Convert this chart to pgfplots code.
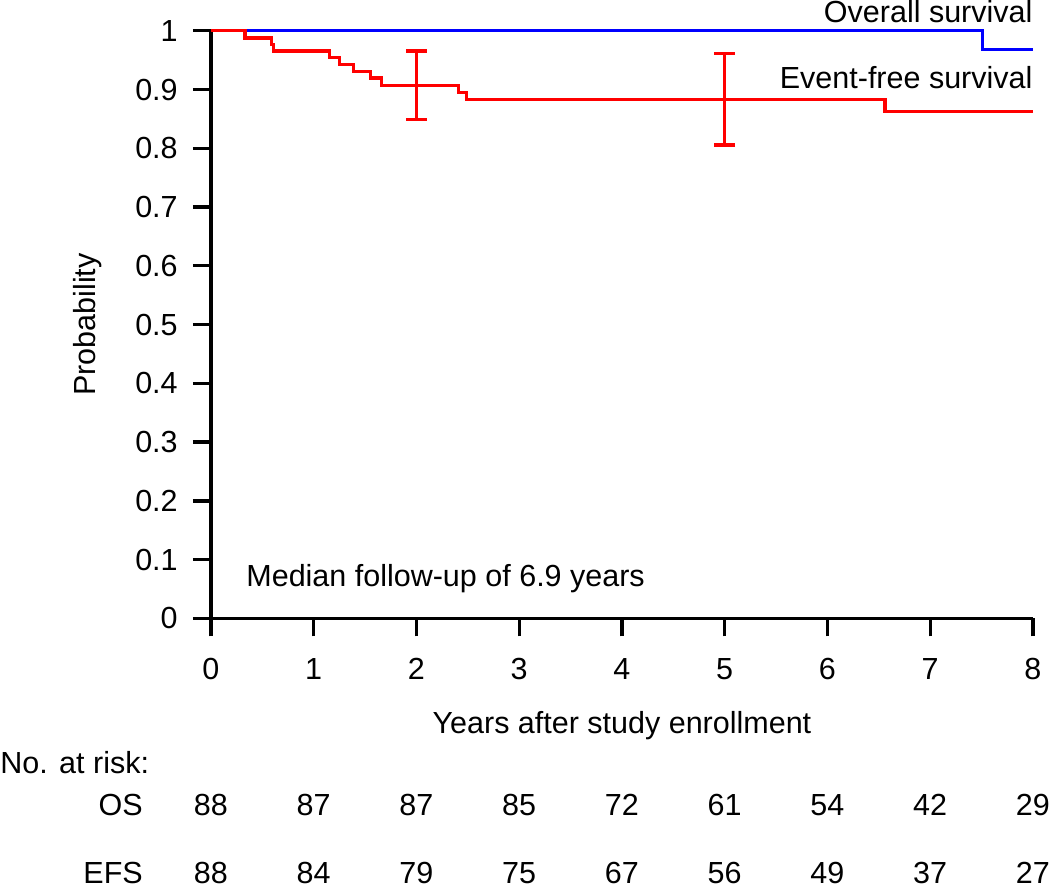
\documentclass[border=0pt]{standalone}
\usepackage{fontspec}
\setmainfont{Liberation Sans}
\usepackage{pgfplots}
\pgfplotsset{compat=1.18}
\definecolor{osblue}{RGB}{0,0,255}
\definecolor{efsred}{RGB}{255,0,0}
\begin{document}
\fontsize{12}{14}\selectfont
\begin{tikzpicture}
\useasboundingbox (-83.0pt,-105.3pt) rectangle (330.1pt,243.3pt);
\begin{axis}[
  at={(0pt,0pt)}, anchor=south west,
  scale only axis, width=323.4pt, height=231.2pt,
  xmin=0, xmax=8, ymin=0, ymax=1,
  axis lines=left,
  axis line style={-, line width=1.3pt, black},
  tick align=outside, major tick length=7.1pt,
  tick style={line width=1.3pt, black},
  xtick={0,1,2,3,4,5,6,7,8},
  ytick={0,0.1,0.2,0.3,0.4,0.5,0.6,0.7,0.8,0.9,1},
  yticklabels={0,0.1,0.2,0.3,0.4,0.5,0.6,0.7,0.8,0.9,1},
  /pgf/number format/assume math mode=true,
  xticklabel style={yshift=-4.5pt},
  yticklabel style={xshift=-1.8pt},
  clip=false,
  xlabel={Years after study enrollment},
  xlabel style={at={(axis description cs:0.5,-0.195)}, anchor=base, inner sep=0pt},
  ylabel={Probability},
  ylabel style={at={(axis description cs:-0.1497,0.5)}, anchor=center, rotate=0},
]
% Overall survival
\addplot[const plot, color=osblue, line width=1.3pt] coordinates {
  (0,1) (7.51,0.9686) (8,0.9686)
};
% Event-free survival
\addplot[const plot, color=efsred, line width=1.3pt] coordinates {
  (0,1) (0.331,0.9875) (0.591,0.9765) (0.606,0.9655) (1.151,0.9542)
  (1.249,0.9425) (1.385,0.9305) (1.554,0.9195) (1.661,0.907)
  (2.407,0.8955) (2.488,0.8835) (6.56,0.8625) (8,0.8625)
};
% Confidence intervals
\addplot[draw=none, mark=none,
  error bars/.cd, y dir=both, y explicit,
  error bar style={line width=1.3pt, draw=efsred},
  error mark options={rotate=90, line width=1.3pt, draw=efsred, mark size=4.1pt}]
  coordinates {
  (2,0.907) +- (0,0.0585)
  (5,0.8835) +- (0,0.078)
};
\node[anchor=base east, inner sep=0pt] at (axis cs:8,1.0136) {Overall survival};
\node[anchor=base east, inner sep=0pt] at (axis cs:8,0.902) {Event-free survival};
\node[anchor=base west, inner sep=0pt] at (axis cs:0.34,0.0551) {Median follow-up of 6.9 years};
\node[anchor=base west, inner sep=0pt] at (axis cs:-2.0535,-0.2636) {No. at risk:};
\node[anchor=base east, inner sep=0pt] at (axis cs:-0.659,-0.336) {OS};
\node[anchor=base east, inner sep=0pt] at (axis cs:-0.659,-0.4508) {EFS};
\node[anchor=base, inner sep=0pt] at (axis cs:0,-0.336) {88};
\node[anchor=base, inner sep=0pt] at (axis cs:1,-0.336) {87};
\node[anchor=base, inner sep=0pt] at (axis cs:2,-0.336) {87};
\node[anchor=base, inner sep=0pt] at (axis cs:3,-0.336) {85};
\node[anchor=base, inner sep=0pt] at (axis cs:4,-0.336) {72};
\node[anchor=base, inner sep=0pt] at (axis cs:5,-0.336) {61};
\node[anchor=base, inner sep=0pt] at (axis cs:6,-0.336) {54};
\node[anchor=base, inner sep=0pt] at (axis cs:7,-0.336) {42};
\node[anchor=base, inner sep=0pt] at (axis cs:8,-0.336) {29};
\node[anchor=base, inner sep=0pt] at (axis cs:0,-0.4508) {88};
\node[anchor=base, inner sep=0pt] at (axis cs:1,-0.4508) {84};
\node[anchor=base, inner sep=0pt] at (axis cs:2,-0.4508) {79};
\node[anchor=base, inner sep=0pt] at (axis cs:3,-0.4508) {75};
\node[anchor=base, inner sep=0pt] at (axis cs:4,-0.4508) {67};
\node[anchor=base, inner sep=0pt] at (axis cs:5,-0.4508) {56};
\node[anchor=base, inner sep=0pt] at (axis cs:6,-0.4508) {49};
\node[anchor=base, inner sep=0pt] at (axis cs:7,-0.4508) {37};
\node[anchor=base, inner sep=0pt] at (axis cs:8,-0.4508) {27};
\end{axis}
\end{tikzpicture}
\end{document}
